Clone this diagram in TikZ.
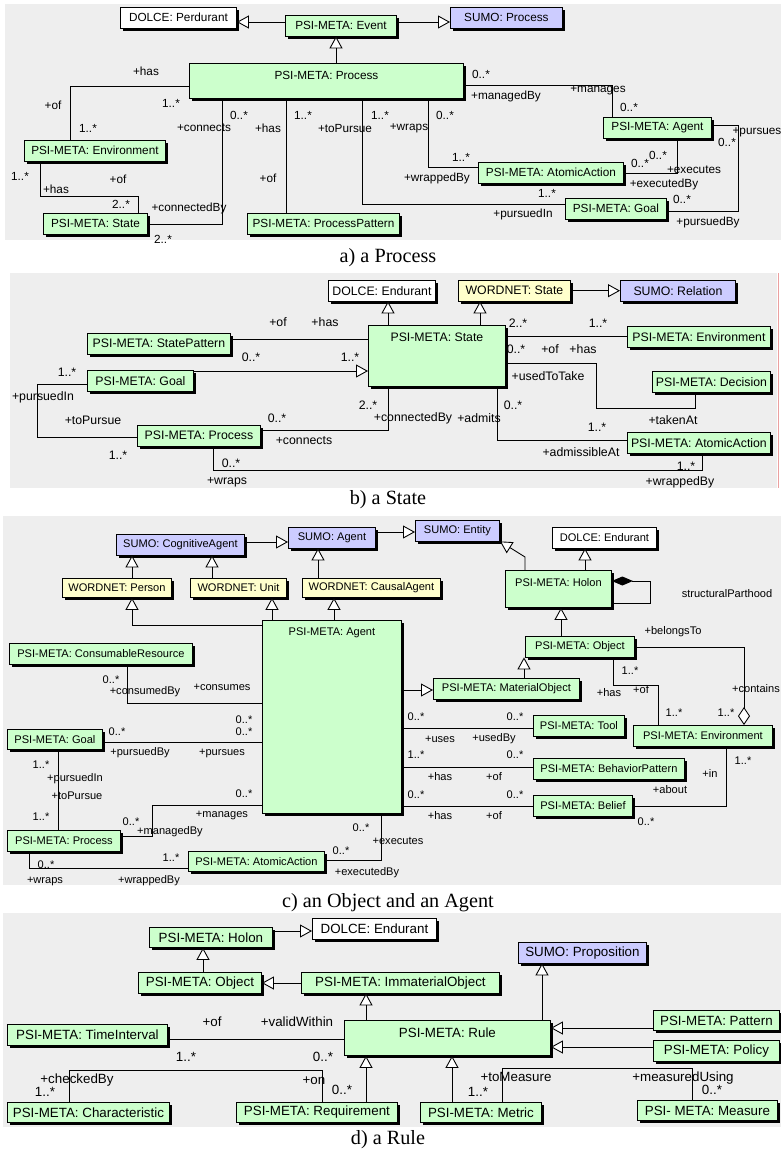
\documentclass[tikz,border=0pt]{standalone}
\usepackage{fontspec}
\setmainfont{Liberation Serif}
\newfontfamily\umlsans{Liberation Sans}
\usetikzlibrary{arrows.meta,shadows}
\definecolor{psigreen}{RGB}{204,255,204}
\definecolor{sumoblue}{RGB}{204,204,255}
\definecolor{wnyellow}{RGB}{255,255,204}
\definecolor{panelgray}{RGB}{238,238,238}
\definecolor{edgered}{RGB}{235,160,160}
\tikzset{
  cls/.style={draw, line width=0.5pt, fill=psigreen, anchor=north west, inner sep=0pt,
    minimum height=4.1mm,
    drop shadow={shadow xshift=0.6mm, shadow yshift=-0.6mm, fill=black, opacity=1}},
  dolce/.style={cls, fill=white},
  sumo/.style={cls, fill=sumoblue},
  wordnet/.style={cls, fill=wnyellow},
  boxw/.style={minimum width=#1*0.2mm},
  boxh/.style={minimum height=#1*0.2mm},
  title/.style={label={[anchor=north, yshift=-0.4mm]north:#1}},
  lbl/.style={inner sep=0.5pt},
  isa/.style={-{Triangle[fill=white, length=2.4mm, width=2.6mm]}, line width=0.5pt},
  assoc/.style={line width=0.5pt},
  figcap/.style={font=\fontsize{11.5}{13}\selectfont},
}
\begin{document}
\begin{tikzpicture}[x=0.2mm, y=-0.2mm]
  \useasboundingbox (0,0) rectangle (781,1154);

  % a) a Process
  \begin{scope}[font=\umlsans\fontsize{6.7}{8}\selectfont]
    \fill[panelgray] (5,4) rectangle (781,240);
    \node[dolce, boxw=116] (perdA) at (120,7) {DOLCE: Perdurant};
    \node[cls, boxw=111] (eventA) at (285,15) {PSI-META: Event};
    \node[sumo, boxw=112] (sumoA) at (450,7) {SUMO: Process};
    \node[cls, boxw=274, boxh=35, title=PSI-META: Process] (procA) at (189,63) {};
    \node[cls, boxw=141] (envA) at (24,140) {PSI-META: Environment};
    \node[cls, boxw=104] (stateA) at (43,213) {PSI-META: State};
    \node[cls, boxw=152] (patA) at (247,213) {PSI-META: ProcessPattern};
    \node[cls, boxw=145] (atomA) at (478,162) {PSI-META: AtomicAction};
    \node[cls, boxw=101] (goalA) at (565,198) {PSI-META: Goal};
    \node[cls, boxw=108] (agentA) at (603,117) {PSI-META: Agent};

    \draw[isa] (eventA.west |- 0,22) -- (perdA.east |- 0,22);
    \draw[isa] (eventA.east |- 0,22) -- (sumoA.west |- 0,22);
    \draw[isa] (procA.north -| 336,0) -- (eventA.south -| 336,0);
    \draw[assoc] (procA.west |- 0,86) -| (envA.north -| 70,0);
    \draw[assoc] (envA.south -| 40,0) |- (138,196) -- (stateA.north -| 138,0);
    \draw[assoc] (stateA.east |- 0,224) -| (procA.south -| 222,0);
    \draw[assoc] (procA.south -| 286,0) -- (patA.north -| 286,0);
    \draw[assoc] (procA.south -| 362,0) |- (goalA.west |- 0,204);
    \draw[assoc] (procA.south -| 428,0) |- (atomA.west |- 0,167);
    \draw[assoc] (procA.east |- 0,85) -| (agentA.north -| 612,0);
    \draw[assoc] (agentA.south -| 677,0) |- (atomA.east |- 0,173);
    \draw[assoc] (agentA.east |- 0,125) -| (738,211) -- (goalA.east |- 0,211);

    \foreach \x/\y/\t [count=\i] in {146/71/+has, 53/105/+of, 171/103/1..*,
        88/128/1..*, 20/176/1..*, 56/189/+has, 118/179/+of, 121/204/2..*,
        239/115/0..*, 204/128/+connects, 189/208/+connectedBy, 163/239/2..*,
        268/128/+has, 303/115/1..*, 268/178/+of, 380/115/1..*, 345/128/+toPursue,
        547/193/1..*, 523/214/+pursuedIn, 445/115/0..*, 409/128/+wraps,
        461/157/1..*, 437/178/+wrappedBy, 481/74/0..*, 506/96/+managedBy,
        598/90/+manages, 629/107/0..*, 658/155/0..*, 640/163/0..*,
        694/170/+executes, 664/184/+executedBy, 757/132/+pursues,
        727/142/0..*, 682/199/0..*, 708/222/+pursuedBy}
      \node[lbl] (a\i) at (\x,\y) {\t};
  \end{scope}
  \node[figcap] (capA) at (388,258) {a) a Process};

  % b) a State
  \begin{scope}[font=\umlsans\fontsize{7}{8}\selectfont]
    \fill[panelgray] (10,273) rectangle (777,488);
    \draw[edgered, line width=0.4pt] (778,273) -- (778,488);
    \node[dolce, boxw=107] (endB) at (328,280) {DOLCE: Endurant};
    \node[wordnet, boxw=112] (wnB) at (458,280) {WORDNET: State};
    \node[sumo, boxw=115] (relB) at (620,280) {SUMO: Relation};
    \node[cls, boxw=137, boxh=61, title=PSI-META: State] (stateB) at (368,325) {};
    \node[cls, boxw=143] (spB) at (87,333) {PSI-META: StatePattern};
    \node[cls, boxw=106] (goalB) at (87,370) {PSI-META: Goal};
    \node[cls, boxw=123] (procB) at (137,425) {PSI-META: Process};
    \node[cls, boxw=143] (envB) at (627,326) {PSI-META: Environment};
    \node[cls, boxw=118] (decB) at (652,371) {PSI-META: Decision};
    \node[cls, boxw=143] (atomB) at (627,432) {PSI-META: AtomicAction};

    \draw[isa] (stateB.north -| 388,0) -- (endB.south -| 388,0);
    \draw[isa] (stateB.north -| 480,0) -- (wnB.south -| 480,0);
    \draw[isa] (wnB.east) -- (relB.west);
    \draw[assoc] (spB.east |- 0,339) -- (stateB.west |- 0,339);
    \draw[isa] (goalB.east |- 0,371) -- (stateB.west |- 0,371);
    \draw[assoc] (goalB.west |- 0,384) -| (37,437) -- (procB.west |- 0,437);
    \draw[assoc] (procB.east |- 0,430) -| (stateB.south -| 388,0);
    \draw[assoc] (procB.south -| 213,0) |- (702,470) -- (atomB.south -| 702,0);
    \draw[assoc] (stateB.east |- 0,336) -- (envB.west |- 0,336);
    \draw[assoc] (stateB.east |- 0,363) -| (596,408) -| (decB.south -| 695,0);
    \draw[assoc] (stateB.south -| 497,0) |- (atomB.west |- 0,440);

    \foreach \x/\y/\t [count=\i] in {278/322/+of, 325/322/+has, 251/357/0..*,
        350/357/1..*, 67/372/1..*, 43/397/+pursuedIn, 93/420/+toPursue,
        118/455/1..*, 277/418/0..*, 304/441/+connects, 368/405/2..*,
        413/418/+connectedBy, 479/418/+admits, 231/463/0..*, 227/482/+wraps,
        686/466/1..*, 680/482/+wrappedBy, 518/323/2..*, 598/323/1..*,
        516/349/0..*, 550/349/+of, 583/349/+has, 548/376/+usedToTake,
        673/420/+takenAt, 513/405/0..*, 597/427/1..*, 581/452/+admissibleAt}
      \node[lbl] (b\i) at (\x,\y) {\t};
  \end{scope}
  \node[figcap] (capB) at (388,500) {b) a State};

  % c) an Object and an Agent
  \begin{scope}[font=\umlsans\fontsize{6.3}{7.5}\selectfont]
    \fill[panelgray] (3,516) rectangle (781,885);
    \node[sumo, boxw=128] (cogC) at (116,534) {SUMO: CognitiveAgent};
    \node[sumo, boxw=87] (sagC) at (288,527) {SUMO: Agent};
    \node[sumo, boxw=84] (entC) at (415,520) {SUMO: Entity};
    \node[dolce, boxw=104] (endC) at (552,527) {DOLCE: Endurant};
    \node[cls, boxw=106, boxh=37, title=PSI-META: Holon] (holC) at (505,570) {};
    \node[wordnet, boxw=109, boxh=19] (perC) at (62,578) {WORDNET: Person};
    \node[wordnet, boxw=96, boxh=19] (unitC) at (190,578) {WORDNET: Unit};
    \node[wordnet, boxw=138, boxh=19] (causC) at (302,578) {WORDNET: CausalAgent};
    \node[cls, boxw=139, boxh=193, title=PSI-META: Agent] (agC) at (262,620) {};
    \node[cls, boxw=183] (consC) at (9,643) {PSI-META: ConsumableResource};
    \node[cls, boxw=109] (objC) at (525,636) {PSI-META: Object};
    \node[cls, boxw=146] (matC) at (433,678) {PSI-META: MaterialObject};
    \node[cls, boxw=91] (toolC) at (533,715) {PSI-META: Tool};
    \node[cls, boxw=139] (envC) at (633,725) {PSI-META: Environment};
    \node[cls, boxw=151] (bpC) at (533,758) {PSI-META: BehaviorPattern};
    \node[cls, boxw=99] (belC) at (533,795) {PSI-META: Belief};
    \node[cls, boxw=95, boxh=20] (goalC) at (7,729) {PSI-META: Goal};
    \node[cls, boxw=113] (procC) at (7,830) {PSI-META: Process};
    \node[cls, boxw=136, boxh=20] (atomC) at (188,851) {PSI-META: AtomicAction};

    \draw[isa] (cogC.east |- 0,542) -- (sagC.west |- 0,542);
    \draw[isa] (sagC.east |- 0,532) -- (entC.west |- 0,532);
    \draw[isa] (perC.north -| 132,0) -- (cogC.south -| 132,0);
    \draw[isa] (unitC.north -| 212,0) -- (cogC.south -| 212,0);
    \draw[isa] (causC.north -| 318,0) -- (sagC.south -| 318,0);
    \draw[isa] (agC.west |- 0,625) -| (perC.south -| 132,0);
    \draw[isa] (agC.north -| 272,0) -- (unitC.south -| 272,0);
    \draw[isa] (agC.north -| 334,0) -- (causC.south -| 334,0);
    \draw[isa] (holC.north -| 525,0) -- (525,557) -- (entC.south -| 500,0);
    \draw[isa] (holC.north -| 585,0) -- (endC.south -| 585,0);
    \draw[{Diamond[fill=black, length=4.2mm, width=1.8mm]}-, line width=0.5pt]
      (holC.east |- 0,581) -- (650,581) |- (holC.east |- 0,603);
    \draw[isa] (objC.north -| 561,0) -- (holC.south -| 561,0);
    \draw[isa] (matC.north -| 524,0) -- (objC.south -| 524,0);
    \draw[isa] (agC.east |- 0,690) -- (matC.west |- 0,690);
    \draw[assoc] (consC.south -| 127,0) |- (agC.west |- 0,703);
    \draw[assoc] (goalC.east |- 0,742) -- (agC.west |- 0,742);
    \draw[assoc] (goalC.south -| 58,0) -- (procC.north -| 58,0);
    \draw[assoc] (procC.east |- 0,836) -| (152,805) -- (agC.west |- 0,805);
    \draw[assoc] (procC.south -| 29,0) |- (atomC.west |- 0,868);
    \draw[assoc] (agC.south -| 381,0) |- (atomC.east |- 0,860);
    \draw[assoc] (agC.east |- 0,728) -- (toolC.west |- 0,728);
    \draw[assoc] (agC.east |- 0,767) -- (bpC.west |- 0,767);
    \draw[assoc] (agC.east |- 0,806) -- (belC.west |- 0,806);
    \draw[assoc] (belC.east |- 0,806) -| (envC.south -| 726,0);
    \draw[assoc] (objC.south -| 613,0) |- (658,685) -- (envC.north -| 658,0);
    \draw[-{Diamond[fill=white, length=3.6mm, width=2.4mm]}, line width=0.5pt]
      (objC.east |- 0,647) -| (envC.north -| 744,0);

    \foreach \x/\y/\t [count=\i] in {111/680/0..*, 145/692/+consumedBy,
        222/687/+consumes, 117/732/0..*, 244/720/0..*, 244/732/0..*,
        140/753/+pursuedBy, 222/753/+pursues, 41/765/1..*, 75/779/+pursuedIn,
        77/796/+toPursue, 41/817/1..*, 244/794/0..*, 222/815/+manages,
        131/822/0..*, 170/832/+managedBy, 46/865/0..*, 45/881/+wraps,
        171/858/1..*, 149/881/+wrappedBy, 361/828/0..*, 398/841/+executes,
        341/851/0..*, 367/873/+executedBy, 416/717/0..*, 515/717/0..*,
        440/739/+uses, 494/739/+usedBy, 416/755/1..*, 515/755/0..*,
        440/777/+has, 494/777/+of, 416/795/0..*, 515/795/0..*, 440/816/+has,
        494/816/+of, 743/761/1..*, 710/773/+in, 670/790/+about, 646/822/0..*,
        630/671/1..*, 609/693/+has, 641/690/+of, 674/713/1..*,
        673/632/+belongsTo, 756/689/+contains, 726/713/1..*,
        727/594/structuralParthood}
      \node[lbl] (c\i) at (\x,\y) {\t};
  \end{scope}
  \node[figcap] (capC) at (388,903) {c) an Object and an Agent};

  % d) a Rule
  \begin{scope}[font=\umlsans\fontsize{7.6}{9}\selectfont]
    \fill[panelgray] (3,913) rectangle (781,1127);
    \node[cls, boxw=123, boxh=20] (holD) at (149,927) {PSI-META: Holon};
    \node[dolce, boxw=124] (endD) at (312,918) {DOLCE: Endurant};
    \node[cls, boxw=123] (objD) at (138,972) {PSI-META: Object};
    \node[cls, boxw=198] (imD) at (301,972) {PSI-META: ImmaterialObject};
    \node[sumo, boxw=128] (propD) at (518,942) {SUMO: Proposition};
    \node[cls, boxw=206, boxh=35, title=PSI-META: Rule] (ruleD) at (344,1020) {};
    \node[cls, boxw=160] (timeD) at (7,1024) {PSI-META: TimeInterval};
    \node[cls, boxw=162, boxh=20] (charD) at (7,1102) {PSI-META: Characteristic};
    \node[cls, boxw=161, boxh=20] (reqD) at (236,1102) {PSI-META: Requirement};
    \node[cls, boxw=121, boxh=20] (metD) at (420,1102) {PSI-META: Metric};
    \node[cls, boxw=140, boxh=20] (measD) at (637,1100) {PSI- META: Measure};
    \node[cls, boxw=126, boxh=20] (patD) at (653,1010) {PSI-META: Pattern};
    \node[cls, boxw=126] (polD) at (653,1040) {PSI-META: Policy};

    \draw[isa] (holD.east |- 0,931) -- (endD.west |- 0,931);
    \draw[isa] (objD.north -| 203,0) -- (holD.south -| 203,0);
    \draw[isa] (imD.west |- 0,983) -- (objD.east |- 0,983);
    \draw[isa] (ruleD.north -| 366,0) -- (imD.south -| 366,0);
    \draw[isa] (ruleD.north -| 542,0) -- (propD.south -| 542,0);
    \draw[assoc] (timeD.east |- 0,1039) -- (ruleD.west |- 0,1039);
    \draw[assoc] (charD.north -| 69,0) |- (322,1070) -- (reqD.north -| 322,0);
    \draw[isa] (reqD.north -| 366,0) -- (ruleD.south -| 366,0);
    \draw[isa] (metD.north -| 452,0) -- (ruleD.south -| 452,0);
    \draw[assoc] (metD.north -| 502,0) |- (692,1068) -- (measD.north -| 692,0);
    \draw[isa] (patD.west |- 0,1028) -- (ruleD.east |- 0,1028);
    \draw[isa] (polD.west |- 0,1047) -- (ruleD.east |- 0,1047);

    \foreach \x/\y/\t [count=\i] in {212/1022/+of, 297/1022/+validWithin,
        186/1057/1..*, 323/1057/0..*, 77/1080/+checkedBy, 45/1092/1..*,
        314/1081/+on, 342/1090/0..*, 516/1077/+toMeasure, 478/1092/1..*,
        683/1078/+measuredUsing, 712/1090/0..*}
      \node[lbl] (d\i) at (\x,\y) {\t};
  \end{scope}
  \node[figcap] (capD) at (388,1140) {d) a Rule};
\end{tikzpicture}
\end{document}
